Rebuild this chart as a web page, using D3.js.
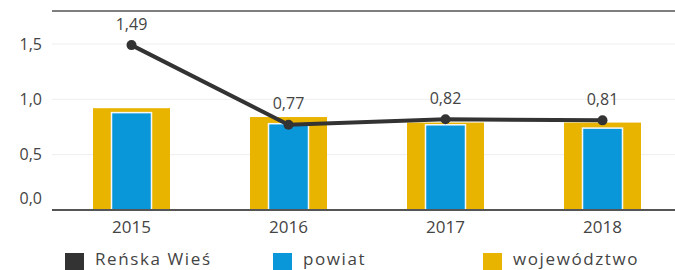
<!DOCTYPE html>
<html lang="pl">
<head>
<meta charset="UTF-8">
<title>Wskaźnik</title>
<script src="https://d3js.org/d3.v7.min.js"></script>
<style>
  body { margin: 0; background: #fff; }
  text { font-family: "Open Sans", sans-serif; fill: #444; }
</style>
</head>
<body>
<div id="chart"></div>
<script>
  const years = ["2015", "2016", "2017", "2018"];
  const gmina = [1.49, 0.77, 0.82, 0.81];        // Reńska Wieś
  const powiat = [0.88, 0.78, 0.77, 0.74];
  const wojewodztwo = [0.92, 0.84, 0.79, 0.79];
  const yTicks = [0, 0.5, 1.0, 1.5];
  const legendItems = ["Reńska Wieś", "powiat", "województwo"];

  const colors = { gmina: "#333333", powiat: "#0a97da", woj: "#e9b400" };
  const W = 675, H = 270;
  const fmt = d => d3.format(".1f")(d).replace(".", ",");
  const fmt2 = d => d3.format(".2f")(d).replace(".", ",");

  const svg = d3.select("#chart").append("svg")
    .attr("width", W).attr("height", H);

  const x = d3.scaleBand().domain(years).range([53, 681]);
  const y = d3.scaleLinear().domain([0, 1.5]).range([210, 44]);
  const cx = d => x(d) + x.bandwidth() / 2;

  // top rule
  svg.append("line")
    .attr("x1", 52).attr("x2", W).attr("y1", 11).attr("y2", 11)
    .attr("stroke", "#555").attr("stroke-width", 1.5);

  // grid
  svg.append("g").selectAll("line")
    .data(yTicks.filter(d => d > 0))
    .join("line")
      .attr("x1", 52).attr("x2", W)
      .attr("y1", d => y(d)).attr("y2", d => y(d))
      .attr("stroke", "#eeeeee").attr("stroke-width", 1);

  // y labels
  svg.append("g").selectAll("text")
    .data(yTicks)
    .join("text")
      .attr("x", 42)
      .attr("y", d => d === 0 ? y(d) - 12 : y(d))
      .attr("dy", "0.35em")
      .attr("text-anchor", "end")
      .style("font-size", "16px")
      .text(fmt);

  // województwo bars
  const wW = 77, pW = 40;
  svg.append("g").selectAll("rect")
    .data(wojewodztwo)
    .join("rect")
      .attr("x", (d, i) => cx(years[i]) - wW / 2)
      .attr("y", d => y(d))
      .attr("width", wW)
      .attr("height", d => y(0) - y(d))
      .attr("fill", colors.woj);

  // powiat bars
  svg.append("g").selectAll("rect")
    .data(powiat)
    .join("rect")
      .attr("x", (d, i) => cx(years[i]) - pW / 2)
      .attr("y", d => y(d))
      .attr("width", pW)
      .attr("height", d => y(0) - y(d))
      .attr("fill", colors.powiat)
      .attr("stroke", "#f4f8fb")
      .attr("stroke-width", 1.5);

  // x axis
  svg.append("line")
    .attr("x1", 52).attr("x2", W).attr("y1", y(0)).attr("y2", y(0))
    .attr("stroke", "#555").attr("stroke-width", 2);

  svg.append("g").selectAll("text")
    .data(years)
    .join("text")
      .attr("x", d => cx(d))
      .attr("y", 227)
      .attr("dy", "0.35em")
      .attr("text-anchor", "middle")
      .style("font-size", "17px")
      .text(d => d);

  // gmina line
  const line = d3.line()
    .x((d, i) => cx(years[i]))
    .y(d => y(d));

  svg.append("path")
    .datum(gmina)
    .attr("d", line)
    .attr("fill", "none")
    .attr("stroke", colors.gmina)
    .attr("stroke-width", 4);

  svg.append("g").selectAll("circle")
    .data(gmina)
    .join("circle")
      .attr("cx", (d, i) => cx(years[i]))
      .attr("cy", d => y(d))
      .attr("r", 5)
      .attr("fill", colors.gmina);

  svg.append("g").selectAll("text")
    .data(gmina)
    .join("text")
      .attr("x", (d, i) => cx(years[i]))
      .attr("y", d => y(d) - 21)
      .attr("dy", "0.35em")
      .attr("text-anchor", "middle")
      .style("font-size", "16px")
      .text(fmt2);

  // legend
  const legendX = [65, 273, 483];
  const legendColors = [colors.gmina, colors.powiat, colors.woj];
  const lg = svg.append("g").selectAll("g")
    .data(legendItems)
    .join("g")
      .attr("transform", (d, i) => `translate(${legendX[i]},253)`);
  lg.append("rect")
    .attr("width", 19).attr("height", 19)
    .attr("fill", (d, i) => legendColors[i]);
  lg.append("text")
    .attr("x", 30).attr("y", 12)
    .style("font-size", "17px")
    .style("letter-spacing", "1.6px")
    .text(d => d);
</script>
</body>
</html>
